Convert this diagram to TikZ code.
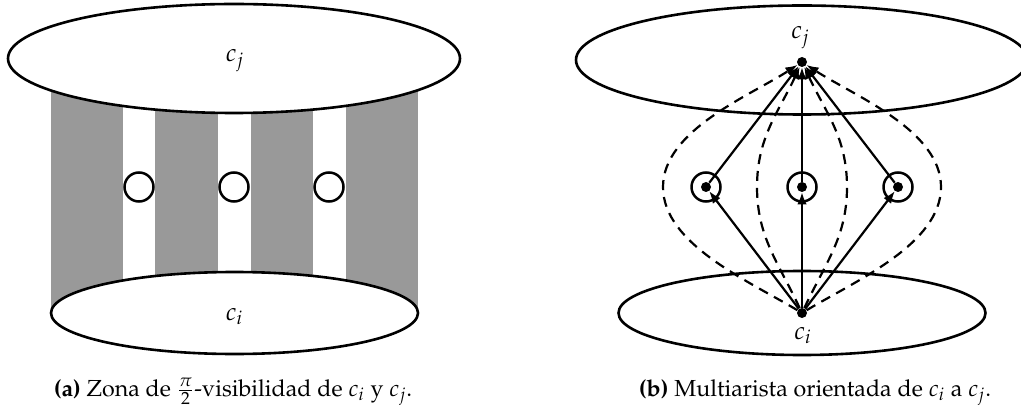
\documentclass[tikz,border=0pt]{standalone}
\usepackage[T1]{fontenc}
\usepackage{mathpazo}
\renewcommand{\rmdefault}{ppl}
\usetikzlibrary{arrows.meta}
\begin{document}
\begin{tikzpicture}[x=0.5pt,y=-0.5pt,
  ell/.style={draw,line width=1.3pt,fill=white},
  stripe/.style={fill=black!40},
  hole/.style={draw,line width=1.25pt},
  lab/.style={font=\fontsize{12.5}{14}\selectfont,inner sep=0pt,anchor=base},
  captext/.style={font=\rmfamily\fontsize{11.6}{14}\selectfont,inner sep=0pt,anchor=base},
  dot/.style={circle,fill=black,inner sep=0pt,minimum size=5pt},
  arr/.style={line width=1.1pt,-{Latex[length=6pt,width=4.8pt]}},
  dsh/.style={arr,dash pattern=on 5pt off 3.5pt}]
\useasboundingbox (0,0) rectangle (1021,411);
\clip (0,0) rectangle (1021,411);
% ---------- (a) ----------
\fill[stripe] (51,80) rectangle (123,313);
\fill[stripe] (155,80) rectangle (218,313);
\fill[stripe] (251,80) rectangle (313,313);
\fill[stripe] (346,80) rectangle (418,313);
\draw[ell] (234.5,313) ellipse [x radius=183.5, y radius=41];
\draw[ell] (234,58.5) ellipse [x radius=226, y radius=54.5];
\draw[hole] (139,187) circle [radius=14.5];
\draw[hole] (234,187) circle [radius=14.5];
\draw[hole] (329,187) circle [radius=14.5];
\node[lab] (aj) at (235,62) {$c_j$};
\node[lab] (ai) at (234.5,320) {$c_i$};
\node[captext] (capa) at (233,396) {\textbf{(a)} Zona de $\frac{\pi}{2}$-visibilidad de $c_i$ y $c_j$.};
% ---------- (b) ----------
\draw[ell] (802,313) ellipse [x radius=183.5, y radius=42];
\draw[ell] (802,60) ellipse [x radius=226, y radius=54.5];
\draw[hole] (706,187) circle [radius=14.5];
\draw[hole] (802,187) circle [radius=14.5];
\draw[hole] (898,187) circle [radius=14.5];
\node[dot] (cj) at (802,62) {};
\node[dot] (ci) at (802,313) {};
\node[dot] (v1) at (706,187) {};
\node[dot] (v2) at (802,187) {};
\node[dot] (v3) at (898,187) {};
\coordinate (d1) at (663,187);
\coordinate (d2) at (757,187);
\coordinate (d3) at (847,187);
\coordinate (d4) at (941,187);
\draw[arr] (ci) -- (v1);
\draw[arr] (ci) -- (v2);
\draw[arr] (ci) -- (v3);
\draw[arr] (v1) -- (cj);
\draw[arr] (v2) -- (cj);
\draw[arr] (v3) -- (cj);
\draw[dsh] (ci) to[out=149,in=-90,looseness=0.8] (d1) to[out=90,in=-147,looseness=0.8] (cj);
\draw[dsh] (ci) to[out=115,in=-90] (d2) to[out=90,in=-115] (cj);
\draw[dsh] (ci) to[out=65,in=-90] (d3) to[out=90,in=-65] (cj);
\draw[dsh] (ci) to[out=31,in=-90,looseness=0.8] (d4) to[out=90,in=-33,looseness=0.8] (cj);
\node[lab] (bj) at (800.5,39) {$c_j$};
\node[lab] (bi) at (803,339) {$c_i$};
\node[captext] (capb) at (815,396) {\textbf{(b)} Multiarista orientada de $c_i$ a $c_j$.};
\end{tikzpicture}
\end{document}
